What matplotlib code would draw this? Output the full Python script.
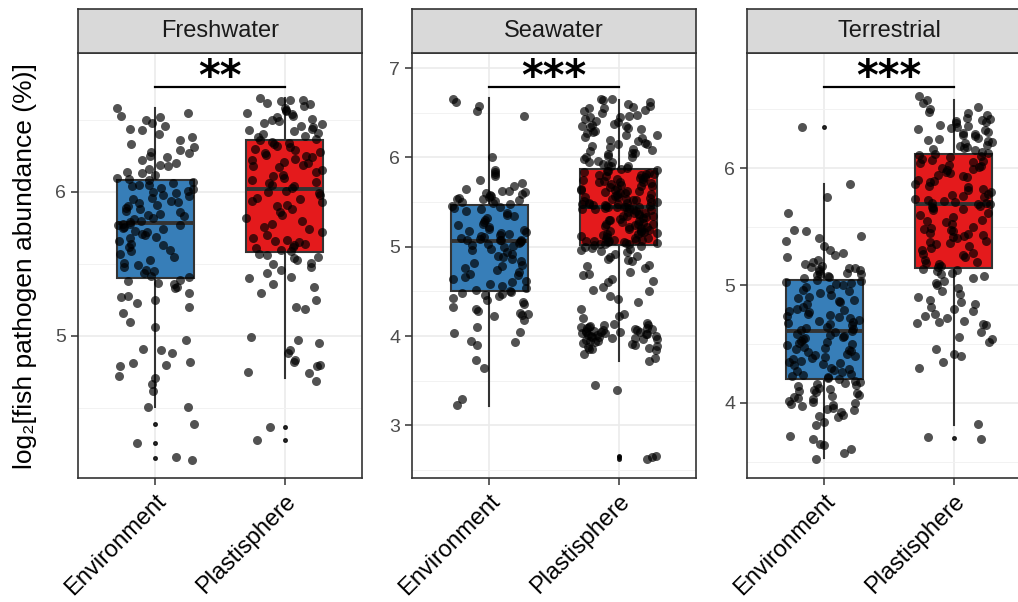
import numpy as np
import matplotlib
matplotlib.use("Agg")
import matplotlib.pyplot as plt
from matplotlib.ticker import MultipleLocator

plt.rcParams['font.family'] = ['Liberation Sans', 'DejaVu Sans']

panels = ["Freshwater", "Seawater", "Terrestrial"]
groups = ["Environment", "Plastisphere"]
signif = ["**", "***", "***"]
bar_y = [6.73, 6.79, 6.69]
ylims = [(4.014, 6.965), (2.41, 7.17), (3.36, 6.98)]
yticks = [[5, 6], [3, 4, 5, 6, 7], [4, 5, 6]]

# box stats: q1, median, q3, whisker low, whisker high
box_q1 = [[5.40, 5.58], [4.51, 5.02], [4.20, 5.15]]
box_med = [[5.785, 6.02], [5.06, 5.44], [4.61, 5.69]]
box_q3 = [[6.08, 6.36], [5.47, 5.87], [5.05, 6.12]]
box_lo = [[4.51, 4.71], [3.22, 3.72], [3.53, 3.81]]
box_hi = [[6.58, 6.65], [6.67, 6.64], [5.86, 6.58]]
fliers = [[[4.39, 4.26, 4.15], [4.37, 4.28]],
          [[], [2.66, 2.64, 2.62]],
          [[6.35], [3.70]]]

fresh_env = [6.58, 6.55, 6.53, 6.52, 6.50, 6.48, 6.46, 6.44, 6.43, 6.40, 6.38, 6.36, 6.33, 6.31, 6.29,
             6.28, 6.27, 6.25, 6.24, 6.22, 6.20, 6.19, 6.18, 6.16, 6.14, 6.13, 6.12, 6.10, 6.09, 6.08,
             6.07, 6.06, 6.05, 6.05, 6.04, 6.03, 6.02, 6.01, 6.00, 5.99, 5.98, 5.97, 5.96, 5.95, 5.94,
             5.93, 5.92, 5.91, 5.90, 5.89, 5.88, 5.87, 5.86, 5.85, 5.84, 5.83, 5.82, 5.81, 5.80, 5.79,
             5.78, 5.78, 5.77, 5.77, 5.76, 5.75, 5.74, 5.73, 5.72, 5.71, 5.70, 5.69, 5.68, 5.66, 5.64,
             5.63, 5.62, 5.60, 5.59, 5.57, 5.55, 5.53, 5.51, 5.49, 5.48, 5.46, 5.45, 5.44, 5.42, 5.41,
             5.39, 5.38, 5.37, 5.36, 5.34, 5.33, 5.30, 5.28, 5.27, 5.25, 5.23, 5.20, 5.16, 5.10, 5.06,
             4.97, 4.91, 4.90, 4.88, 4.82, 4.81, 4.80, 4.79, 4.72, 4.71, 4.67, 4.62, 4.51, 4.51, 4.39,
             4.26, 4.16, 4.14]
fresh_pla = [6.65, 6.64, 6.64, 6.63, 6.62, 6.61, 6.60, 6.58, 6.57, 6.56, 6.55, 6.54, 6.53, 6.52, 6.51,
             6.50, 6.49, 6.48, 6.47, 6.46, 6.45, 6.44, 6.43, 6.42, 6.41, 6.40, 6.39, 6.38, 6.37, 6.36,
             6.35, 6.34, 6.33, 6.32, 6.31, 6.30, 6.29, 6.28, 6.27, 6.26, 6.25, 6.24, 6.23, 6.22, 6.21,
             6.20, 6.19, 6.18, 6.17, 6.15, 6.14, 6.12, 6.11, 6.10, 6.08, 6.07, 6.06, 6.05, 6.04, 6.03,
             6.01, 6.00, 5.99, 5.98, 5.96, 5.95, 5.94, 5.93, 5.91, 5.90, 5.88, 5.86, 5.84, 5.82, 5.80,
             5.78, 5.76, 5.74, 5.72, 5.70, 5.68, 5.67, 5.66, 5.65, 5.64, 5.63, 5.62, 5.61, 5.60, 5.59,
             5.57, 5.56, 5.55, 5.54, 5.53, 5.51, 5.50, 5.48, 5.46, 5.44, 5.41, 5.40, 5.36, 5.34, 5.30,
             5.25, 5.20, 5.19, 4.99, 4.97, 4.95, 4.90, 4.88, 4.83, 4.82, 4.80, 4.79, 4.75, 4.74, 4.69,
             4.37, 4.28]
sea_env = [6.65, 6.62, 6.58, 6.52, 6.46, 6.01, 5.86, 5.84, 5.82, 5.79, 5.75, 5.71, 5.68, 5.65, 5.63,
           5.62, 5.61, 5.60, 5.59, 5.58, 5.57, 5.56, 5.55, 5.54, 5.53, 5.52, 5.51, 5.50, 5.49, 5.48,
           5.46, 5.45, 5.43, 5.42, 5.40, 5.38, 5.36, 5.34, 5.32, 5.30, 5.28, 5.26, 5.24, 5.22, 5.20,
           5.19, 5.18, 5.16, 5.15, 5.14, 5.13, 5.12, 5.11, 5.10, 5.09, 5.08, 5.08, 5.07, 5.07, 5.06,
           5.05, 5.04, 5.03, 5.02, 5.01, 5.00, 4.98, 4.96, 4.94, 4.92, 4.90, 4.88, 4.86, 4.84, 4.82,
           4.80, 4.78, 4.76, 4.74, 4.72, 4.70, 4.68, 4.66, 4.64, 4.62, 4.60, 4.58, 4.56, 4.54, 4.52,
           4.50, 4.49, 4.48, 4.47, 4.46, 4.45, 4.43, 4.40, 4.38, 4.36, 4.33, 4.30, 4.28, 4.26, 4.25,
           4.24, 4.22, 4.18, 4.10, 4.05, 4.03, 3.95, 3.93, 3.90, 3.73, 3.64, 3.30, 3.23]
sea_pla = [6.66, 6.65, 6.64, 6.62, 6.60, 6.58, 6.57, 6.55, 6.53, 6.52, 6.50, 6.48, 6.46, 6.45, 6.43,
           6.41, 6.40, 6.38, 6.36, 6.35, 6.34, 6.33, 6.32, 6.30, 6.28, 6.27, 6.25, 6.23, 6.22, 6.20,
           6.18, 6.16, 6.15, 6.13, 6.12, 6.10, 6.08, 6.07, 6.05, 6.04, 6.02, 6.01, 6.00, 5.98, 5.96,
           5.95, 5.93, 5.92, 5.90, 5.88, 6.55, 6.45, 6.35, 6.25, 6.15, 6.05, 5.95, 5.90,
           5.87, 5.86, 5.85, 5.84, 5.83, 5.82, 5.81, 5.80, 5.79, 5.78, 5.77, 5.76, 5.75, 5.74, 5.73,
           5.72, 5.71, 5.70, 5.69, 5.68, 5.67, 5.66, 5.65, 5.64, 5.63, 5.62, 5.61, 5.60, 5.59, 5.58,
           5.57, 5.56, 5.55, 5.54, 5.53, 5.52, 5.51, 5.50, 5.50, 5.49, 5.49, 5.48, 5.48, 5.47, 5.47,
           5.46, 5.46, 5.45, 5.45, 5.44, 5.85, 5.80, 5.76, 5.72, 5.68, 5.64, 5.60, 5.56, 5.52, 5.48,
           5.45,
           5.44, 5.43, 5.43, 5.42, 5.42, 5.41, 5.40, 5.39, 5.38, 5.37, 5.36, 5.35, 5.34, 5.33, 5.32,
           5.31, 5.30, 5.29, 5.28, 5.27, 5.26, 5.25, 5.24, 5.23, 5.22, 5.21, 5.20, 5.19, 5.18, 5.17,
           5.16, 5.15, 5.14, 5.13, 5.12, 5.11, 5.10, 5.09, 5.08, 5.07, 5.07, 5.06, 5.06, 5.05, 5.05,
           5.04, 5.04, 5.03, 5.03, 5.02, 5.42, 5.38, 5.34, 5.30, 5.26, 5.22, 5.18, 5.14, 5.10, 5.06,
           5.03,
           5.01, 5.00, 4.98, 4.96, 4.94, 4.92, 4.90, 4.88, 4.86, 4.84, 4.80, 4.76, 4.72, 4.68, 4.64,
           4.60, 4.55, 4.50, 4.45, 4.38, 4.30, 4.25, 4.22, 4.20, 4.15, 4.12, 4.10, 4.09, 4.08, 4.07,
           4.06, 4.05, 4.04, 4.03, 4.02, 4.01, 4.00, 3.99, 3.98, 3.97, 3.95, 3.93, 3.91, 3.89, 3.87,
           3.85, 3.80, 3.75, 3.72, 3.45, 3.40, 2.66, 2.64, 2.62, 4.99, 4.95, 4.85, 4.78, 4.70, 4.62,
           4.52, 4.42, 4.14, 4.12, 4.11, 4.10, 4.09, 4.08, 4.07, 4.06, 4.05, 4.04, 4.03, 4.02, 4.01,
           4.00, 3.99, 3.98, 3.97, 3.96, 3.94, 3.92, 3.90, 3.88, 3.86, 3.84]
terr_env = [6.35, 5.86, 5.75, 5.62, 5.47, 5.46, 5.42, 5.40, 5.38, 5.34, 5.30, 5.28, 5.26, 5.24, 5.22,
            5.20, 5.18, 5.17, 5.16, 5.15, 5.15, 5.14, 5.13, 5.12, 5.11, 5.10, 5.10, 5.09, 5.08, 5.07,
            5.06,
            5.05, 5.04, 5.03, 5.02, 5.01, 5.00, 4.99, 4.97, 4.96, 4.95, 4.94, 4.92, 4.90, 4.89, 4.88,
            4.87, 4.86, 4.84, 4.82, 4.80, 4.79, 4.78, 4.77, 4.76, 4.75, 4.74, 4.73, 4.72, 4.71, 4.70,
            4.69, 4.68, 4.67, 4.66, 4.65, 4.64, 4.63, 4.62,
            4.61, 4.60, 4.59, 4.58, 4.57, 4.56, 4.55, 4.54, 4.53, 4.52, 4.51, 4.50, 4.49, 4.48, 4.47,
            4.46, 4.45, 4.44, 4.43, 4.42, 4.41, 4.40, 4.39, 4.38, 4.37, 4.36, 4.35, 4.34, 4.33, 4.32,
            4.30, 4.29, 4.28, 4.27, 4.26, 4.25, 4.24, 4.23, 4.22, 4.21,
            4.20, 4.19, 4.18, 4.17, 4.16, 4.15, 4.14, 4.13, 4.12, 4.11, 4.10, 4.09, 4.08, 4.07, 4.06,
            4.05, 4.04, 4.03, 4.02, 4.01, 4.00, 3.99, 3.98, 3.97, 3.96, 3.95, 3.94, 3.92, 3.90, 3.89,
            3.88, 3.84, 3.81, 3.72, 3.69, 3.65, 3.64, 3.61, 3.57, 3.52]
terr_pla = [6.61, 6.58, 6.55, 6.52, 6.50, 6.48, 6.47, 6.45, 6.43, 6.42, 6.41, 6.40, 6.39, 6.38, 6.37,
            6.36, 6.35, 6.34, 6.33, 6.32, 6.31, 6.30, 6.29, 6.28, 6.27, 6.26, 6.25, 6.24, 6.23, 6.22,
            6.21, 6.20, 6.19, 6.18, 6.17, 6.16, 6.15, 6.14, 6.13, 6.12,
            6.11, 6.10, 6.09, 6.08, 6.07, 6.06, 6.05, 6.04, 6.03, 6.02, 6.01, 6.00, 5.99, 5.98, 5.97,
            5.96, 5.94, 5.93, 5.92, 5.90, 5.89, 5.88, 5.86, 5.85, 5.84, 5.82, 5.81, 5.80, 5.78, 5.77,
            5.76, 5.75, 5.74, 5.73, 5.72, 5.71, 5.70, 5.70, 5.69, 5.69,
            5.68, 5.67, 5.66, 5.65, 5.64, 5.62, 5.60, 5.58, 5.56, 5.55, 5.54, 5.52, 5.50, 5.49, 5.48,
            5.47, 5.46, 5.45, 5.44, 5.43, 5.42, 5.41, 5.40, 5.38, 5.37, 5.36, 5.35, 5.34, 5.32, 5.30,
            5.28, 5.27, 5.26, 5.24, 5.22, 5.20, 5.19, 5.18, 5.17, 5.16,
            5.14, 5.13, 5.12, 5.11, 5.10, 5.08, 5.06, 5.04, 5.02, 5.00, 4.98, 4.95, 4.93, 4.90, 4.88,
            4.86, 4.84, 4.82, 4.80, 4.78, 4.76, 4.74, 4.72, 4.70, 4.69, 4.68, 4.67, 4.66, 4.60, 4.56,
            4.54, 4.52, 4.46, 4.42, 4.40, 4.35, 4.30, 3.82, 3.71, 3.69]

points = [[fresh_env, fresh_pla], [sea_env, sea_pla], [terr_env, terr_pla]]
colors = ["#377EB8", "#E41A1C"]

W, H = 1018, 602
fig = plt.figure(figsize=(W / 100, H / 100), dpi=100)

panel_left = [78, 412, 747]
pw, top, bottom, strip_h = 284, 53, 478, 44

for k, name in enumerate(panels):
    ax = fig.add_axes([panel_left[k] / W, 1 - bottom / H, pw / W, (bottom - top) / H])

    stats = []
    for j in range(2):
        stats.append(dict(q1=box_q1[k][j], med=box_med[k][j], q3=box_q3[k][j],
                          whislo=box_lo[k][j], whishi=box_hi[k][j], fliers=fliers[k][j]))
    bp = ax.bxp(stats, positions=[1, 2], widths=0.6, patch_artist=True,
                showcaps=False,
                boxprops=dict(edgecolor="#333333", linewidth=1.5),
                whiskerprops=dict(color="#333333", linewidth=1.5),
                medianprops=dict(color="#333333", linewidth=2.8),
                flierprops=dict(marker="o", markersize=2.6, markerfacecolor="black",
                                markeredgecolor="black", alpha=0.8))
    for patch, c in zip(bp["boxes"], colors):
        patch.set_facecolor(c)

    for j in range(2):
        ys = np.array(points[k][j])
        idx = np.arange(len(ys))
        # deterministic hash spread in place of jitter
        frac = (np.sin(idx * 12.9898 + (k * 2 + j) * 78.233) * 43758.5453) % 1.0
        xs = (j + 1) + 0.3 * (2 * frac - 1)
        ax.scatter(xs, ys, s=42, color="black", alpha=0.68, linewidths=0, zorder=3)

    ax.plot([1, 2], [bar_y[k], bar_y[k]], color="black", lw=1.6, zorder=4)
    ax.annotate(signif[k], xy=(1.5, bar_y[k]), xytext=(0, -2), textcoords="offset points",
                ha="center", va="baseline", fontsize=30, fontweight="bold",
                family="DejaVu Sans", zorder=4)

    ax.set_xlim(0.4, 2.6)
    ax.set_ylim(*ylims[k])
    ax.set_facecolor("white")
    ax.set_yticks(yticks[k])
    ax.yaxis.set_minor_locator(MultipleLocator(0.5))
    ax.set_xticks([1, 2])
    ax.set_xticklabels(groups, rotation=45, ha="right", va="top",
                       rotation_mode="anchor", fontsize=17, color="black")
    ax.tick_params(axis="y", labelsize=14, labelcolor="#4D4D4D", color="#333333",
                   length=5, width=1.1)
    ax.tick_params(axis="x", color="#333333", length=5, width=1.1, pad=4)
    ax.tick_params(which="minor", length=0)
    ax.grid(which="major", color="#EBEBEB", lw=1.2, zorder=0)
    ax.grid(which="minor", axis="y", color="#F2F2F2", lw=0.7, zorder=0)
    ax.set_axisbelow(True)
    for s in ax.spines.values():
        s.set_color("#333333")
        s.set_linewidth(1.2)

    sax = fig.add_axes([panel_left[k] / W, 1 - top / H, pw / W, strip_h / H])
    sax.set_facecolor("#D9D9D9")
    sax.set_xticks([])
    sax.set_yticks([])
    for s in sax.spines.values():
        s.set_color("#333333")
        s.set_linewidth(1.2)
    sax.text(0.5, 0.5, name, ha="center", va="center", fontsize=17,
             color="#1A1A1A", transform=sax.transAxes)

fig.text(25 / W, 1 - 266 / H, "log₂[fish pathogen abundance (%)]", rotation=90,
         ha="center", va="center", fontsize=19, color="black")

fig.savefig("out.png", dpi=100)
